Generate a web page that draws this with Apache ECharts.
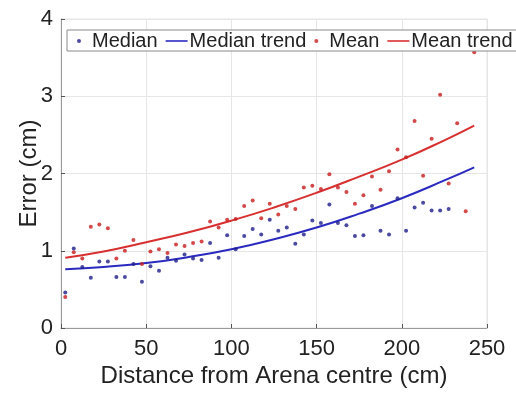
<!DOCTYPE html>
<html>
<head>
<meta charset="utf-8">
<script src="https://cdn.jsdelivr.net/npm/echarts@6/dist/echarts.min.js"></script>
<style>
html,body{margin:0;padding:0;background:#fff;}
#chart{width:516px;height:394px;}
</style>
</head>
<body>
<div id="chart"></div>
<script>
// Distances (cm) of the binned points
var distances = [2.5, 7.5, 12.5, 17.5, 22.5, 27.5, 32.5, 37.5, 42.5, 47.5,
  52.5, 57.5, 62.5, 67.5, 72.5, 77.5, 82.5, 87.5, 92.5, 97.5,
  102.5, 107.5, 112.5, 117.5, 122.5, 127.5, 132.5, 137.5, 142.5, 147.5,
  152.5, 157.5, 162.5, 167.5, 172.5, 177.5, 182.5, 187.5, 192.5, 197.5,
  202.5, 207.5, 212.5, 217.5, 222.5, 227.5, 232.5, 237.5, 242.5];

// Median error (cm) — ends at 227.5
var medianValues = [0.46, 1.03, 0.79, 0.65, 0.86, 0.86, 0.66, 0.66, 0.83, 0.60,
  0.80, 0.74, 0.91, 0.87, 0.95, 0.90, 0.88, 1.10, 0.91, 1.20,
  1.02, 1.19, 1.28, 1.21, 1.40, 1.26, 1.30, 1.09, 1.21, 1.39,
  1.36, 1.60, 1.36, 1.33, 1.19, 1.20, 1.58, 1.26, 1.21, 1.68,
  1.26, 1.56, 1.62, 1.52, 1.52, 1.54];

// Mean error (cm)
var meanValues = [0.40, 0.98, 0.90, 1.31, 1.34, 1.29, 0.90, 1.00, 1.14, 0.83,
  0.99, 1.02, 0.97, 1.08, 1.06, 1.10, 1.12, 1.38, 1.30, 1.40,
  1.41, 1.58, 1.65, 1.42, 1.61, 1.47, 1.58, 1.54, 1.82, 1.84,
  1.80, 1.99, 1.82, 1.76, 1.61, 1.72, 1.96, 1.79, 2.03, 2.31,
  2.21, 2.68, 1.97, 2.45, 3.02, 1.87, 2.65, 1.51, 3.57];

// Trend curves
var trendX = [2.5, 25, 50, 75, 100, 125, 150, 175, 200, 225, 242.5];
var medianTrend = [0.76, 0.79, 0.84, 0.92, 1.02, 1.15, 1.30, 1.48, 1.68, 1.91, 2.08];
var meanTrend = [0.91, 0.99, 1.11, 1.24, 1.39, 1.56, 1.75, 1.96, 2.18, 2.43, 2.62];

var xTicks = [0, 50, 100, 150, 200, 250];
var yTicks = [0, 1, 2, 3, 4];

function pairs(xs, ys) {
  var out = [];
  for (var i = 0; i < ys.length; i++) out.push([xs[i], ys[i]]);
  return out;
}

var FONT = '"Liberation Sans", Arial, sans-serif';
var LINE_ICON = 'path://M0,0h22v1.6h-22z';
var BLUE_DOT = '#1d1d8c', BLUE_LINE = '#2a2ac0', RED_DOT = '#c81c1c', RED_LINE = '#d83030';
var chart = echarts.init(document.getElementById('chart'), null, {renderer: 'canvas'});
chart.setOption({
  animation: false,
  backgroundColor: '#fff',
  grid: {left: 61, right: 29, top: 19, bottom: 66, show: true, borderColor: '#e4e4e4', borderWidth: 1},
  legend: {
    left: 67, top: 30, width: 600,
    padding: [1, 30, 0, 10],
    backgroundColor: '#fff',
    borderColor: '#8a8a8a', borderWidth: 1, borderRadius: 0,
    itemGap: 8, itemWidth: 22, itemHeight: 4,
    textStyle: {fontFamily: FONT, fontSize: 20, color: '#222', padding: [0, 0, 0, -3]},
    data: [
      {name: 'Median', icon: 'circle', itemStyle: {color: BLUE_DOT}},
      {name: 'Median trend', icon: LINE_ICON, itemStyle: {color: BLUE_LINE}},
      {name: 'Mean', icon: 'circle', itemStyle: {color: RED_DOT}},
      {name: 'Mean trend', icon: LINE_ICON, itemStyle: {color: RED_LINE}}
    ]
  },
  xAxis: {
    type: 'value', min: xTicks[0], max: xTicks[xTicks.length - 1], interval: 50,
    name: 'Distance from Arena centre (cm)', nameLocation: 'middle', nameGap: 36,
    nameMoveOverlap: false,
    nameTextStyle: {fontFamily: FONT, fontSize: 24, color: '#222'},
    axisLine: {show: true, lineStyle: {color: '#9a9a9a', width: 1}},
    axisTick: {show: true, inside: true, length: 4, lineStyle: {color: '#555'}},
    axisLabel: {fontFamily: FONT, fontSize: 22, color: '#222', margin: 10},
    splitLine: {show: true, lineStyle: {color: '#e6e6e6', width: 1}}
  },
  yAxis: {
    type: 'value', min: yTicks[0], max: yTicks[yTicks.length - 1], interval: 1,
    name: 'Error (cm)', nameLocation: 'middle', nameGap: 20,
    nameMoveOverlap: false,
    nameTextStyle: {fontFamily: FONT, fontSize: 24, color: '#222'},
    axisLine: {show: true, lineStyle: {color: '#9a9a9a', width: 1}},
    axisTick: {show: true, inside: true, length: 4, lineStyle: {color: '#555'}},
    axisLabel: {fontFamily: FONT, fontSize: 22, color: '#222', margin: 8},
    splitLine: {show: true, lineStyle: {color: '#e6e6e6', width: 1}}
  },
  series: [
    {
      name: 'Median', type: 'scatter', symbol: 'circle', symbolSize: 4,
      itemStyle: {color: BLUE_DOT},
      data: pairs(distances, medianValues), z: 3
    },
    {
      name: 'Median trend', type: 'line', smooth: true, symbol: 'none',
      lineStyle: {color: BLUE_LINE, width: 2}, itemStyle: {color: BLUE_LINE},
      data: pairs(trendX, medianTrend), z: 2
    },
    {
      name: 'Mean', type: 'scatter', symbol: 'circle', symbolSize: 4,
      itemStyle: {color: RED_DOT},
      data: pairs(distances, meanValues), z: 3
    },
    {
      name: 'Mean trend', type: 'line', smooth: true, symbol: 'none',
      lineStyle: {color: RED_LINE, width: 2}, itemStyle: {color: RED_LINE},
      data: pairs(trendX, meanTrend), z: 2
    }
  ]
});
</script>
</body>
</html>
